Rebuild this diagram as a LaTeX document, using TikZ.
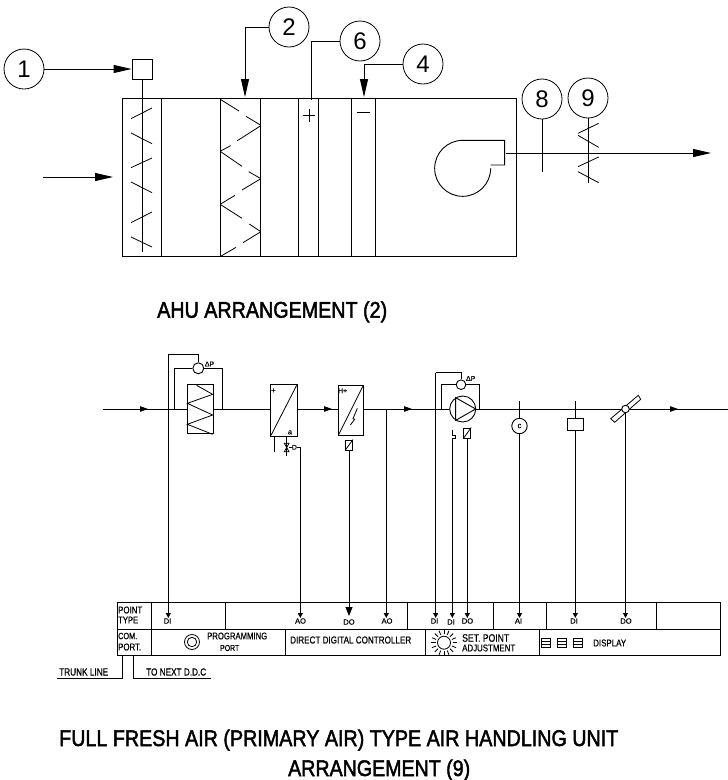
\documentclass[tikz,border=0pt]{standalone}
\usepackage{graphicx}
\usepackage{fontspec}
\setmainfont{Liberation Sans}
\newfontfamily\ttlf[FakeBold=2.2]{Liberation Sans}
\newfontfamily\smallf[FakeBold=0.5]{Liberation Sans}
\usetikzlibrary{arrows.meta}
\newcommand{\fitw}[2]{\scalebox{1}[1.25]{\resizebox{#1pt}{!}{\smallf #2}}}
\newcommand{\fitt}[2]{\scalebox{1}[1.15]{\resizebox{#1pt}{!}{\ttlf #2}}}
\tikzset{
  ln/.style={line width=0.9pt,black},
  thin ln/.style={line width=0.8pt,black},
  num/.style={draw,circle,line width=0.8pt,minimum size=40pt,inner sep=0pt,font=\fontsize{24}{24}\selectfont},
  lbl/.style={inner sep=0pt,anchor=west},
  ttl/.style={inner sep=0pt,anchor=base west},
  ptype/.style={inner sep=0pt,anchor=center,font=\smallf\fontsize{7.5}{7.5}\selectfont},
  big tip/.style={-{Triangle[length=18pt,width=8pt]}},
  small tip/.style={-{Triangle[length=5pt,width=5pt]}},
  flow tip/.style={-{Triangle[length=8pt,width=5.5pt]}},
  box/.style={draw,line width=0.9pt,inner sep=0pt,fill=white},
  smallcirc/.style={draw,circle,line width=0.9pt,inner sep=0pt,fill=white},
}
\begin{document}
\begin{tikzpicture}[x=1pt,y=-1pt,line join=miter]
\useasboundingbox (0,0) rectangle (728,780);
\fill[white] (0,0) rectangle (728,780);

%% ---------- AHU arrangement ----------
\draw[ln] (122,98) rectangle (516.5,256);
\foreach \x in {161,220,260,298,318,351,375} \draw[ln] (\x,98) -- (\x,256);

\node[num] (n1) at (24,69) {1};
\node[num] (n2) at (289,27) {2};
\node[num] (n6) at (360,41) {6};
\node[num] (n4) at (423,64) {4};
\node[num] (n8) at (542,99) {8};
\node[num] (n9) at (588,98) {9};
\node[box,minimum size=20pt] (dbox) at (142,69) {};
\coordinate (filterTop) at (245,97);
\coordinate (plusTop) at (311,100);
\coordinate (minusTop) at (364,97);
\coordinate (dampEnd) at (142,252);
\coordinate (n8End) at (542,172);
\coordinate (n9End) at (588,183);
\coordinate (fanOut) at (506,153);
\coordinate (airOut) at (711,153);
\coordinate (airInA) at (43,177);
\coordinate (airInB) at (113,177);

\draw[ln,big tip] (n1) -- (dbox);
\draw[ln,big tip] (n2) -| (filterTop);
\draw[ln] (n6) -| (plusTop);
\draw[ln,big tip] (n4) -| (minusTop);
\draw[ln] (dbox) -- (dampEnd);
\draw[ln] (n8) -- (n8End);
\draw[ln] (n9) -- (n9End);
\draw[ln,big tip] (fanOut) -- (airOut);
\draw[ln,big tip] (airInA) -- (airInB);

\begin{scope}[shift={(110,50)},x=0.33333pt,y=-0.33333pt]
  \foreach \a/\b/\c/\d in {63/206/126/174,63/249/126/281,63/353/126/324,63/396/126/428,63/518/126/486,63/561/126/591,
    331/148/387/183,408/199/451/225,451/228/382/272,362/287/332/303,332/305/396/349,416/365/451/385,
    451/387/396/420,375/436/332/462,332/464/396/505,418/522/451/544,451/546/399/578,378/592/332/619}
    \draw[thin ln] (\a,\b) -- (\c,\d);
  \draw[thin ln] (579,197) -- (616,197) (597,178) -- (597,216);
  \draw[thin ln] (741,186) -- (780,186);
\end{scope}

\begin{scope}[shift={(420,75)},x=0.33333pt,y=-0.33333pt]
  \foreach \a/\b/\c/\d in {536/145/474/175,474/181/536/217,536/246/474/275,474/290/536/323}
    \draw[thin ln] (\a,\b) -- (\c,\d);
  \draw[ln] (212,270) -- (254,270) -- (254,196) -- (128,196) arc[start angle=90,end angle=360,radius=28pt];
\end{scope}

\node[ttl] (t1) at (157,317.7) {\fitt{230}{AHU ARRANGEMENT (2)}};

%% ---------- Schematic ----------
\node[box,minimum width=26pt,minimum height=49pt] (filter) at (200,409) {};
\node[box,minimum width=27pt,minimum height=52pt] (coil) at (283.5,410) {};
\node[box,minimum width=25pt,minimum height=50pt] (heater) at (350.5,410) {};
\node[smallcirc,minimum size=26pt] (pump) at (462.7,409) {};
\coordinate (ductIn) at (103,409);
\coordinate (ductOut) at (728,409);
\draw[ln] (ductIn) -- (filter.west);
\draw[ln] (filter.east) -- (coil.west |- filter.east);
\draw[ln] (coil.east |- filter.east) -- (heater.west |- filter.east);
\draw[ln] (heater.east |- filter.east) -- (pump.west);
\draw[ln] (pump.east) -- (ductOut);
\foreach \x in {139,323,403,669} \draw[ln,flow tip] (\x,409) -- (\x+9,409);

\begin{scope}[shift={(100,340)},x=0.33333pt,y=-0.33333pt]
  \draw[thin ln] (290,136) -- (338,163) -- (262,190) -- (338,225) -- (262,253) -- (338,283);
  \draw[thin ln] (590,136) -- (513,286);
  \draw[thin ln] (790,136) -- (715,286);
  \draw[thin ln] (751,255) -- (764,238) -- (759,236) -- (772,205);
  \node[font=\smallf\fontsize{8}{8}\selectfont,inner sep=0pt] (plusA) at (520,152) {+};
  \node[font=\smallf\fontsize{7.5}{7.5}\selectfont,inner sep=0pt] (oA) at (570,277) {a};
  \node[font=\smallf\fontsize{7}{7}\selectfont,inner sep=0pt] (hplus) at (728,152) {H+};
  \draw[thin ln] (553,310) -- (567,310) -- (553,335) -- (567,335) -- cycle;
  \draw[thin ln] (560,288) -- (560,347);
  \draw[thin ln] (567,322) -- (578,322);
  \draw[thin ln,fill=white] (578,316) -- (583,316) arc[start angle=90,end angle=-90,radius=2pt] -- (578,328) -- cycle;
  \draw[ln] (523,288) -- (523,335);
\end{scope}

%% dP sensors
\node[smallcirc,minimum size=11pt] (dp1) at (198.3,368.3) {};
\node[smallcirc,minimum size=9.6pt] (dp2) at (461,384.7) {};
\node[inner sep=0pt,font=\smallf\fontsize{7}{7}\selectfont] (dp1t) at (209.5,364) {ΔP};
\node[inner sep=0pt,font=\smallf\fontsize{7}{7}\selectfont] (dp2t) at (470.7,378.5) {ΔP};
\coordinate (a1) at (174,409); \coordinate (a2) at (222.3,409);
\coordinate (b1) at (441.3,409); \coordinate (b2) at (479.7,409);
\coordinate (c1) at (168.3,354.3); \coordinate (c2) at (435.7,372.7);
\draw[ln] (a1) |- (dp1.west);
\draw[ln] (dp1.east) -| (a2);
\draw[ln] (b1) |- (dp2.west);
\draw[ln] (dp2.east) -| (b2);
\draw[ln] (dp1.north) |- (c1);
\draw[ln] (dp2.north) |- (c2);

%% pump triangle
\begin{scope}[shift={(400,350)},x=0.33333pt,y=-0.33333pt]
  \draw[ln] (167,143) -- (227,177) -- (167,211) -- cycle;
\end{scope}

%% lower field devices
\node[box,minimum width=7pt,minimum height=10pt] (hbox) at (349,445) {};
\draw[thin ln] (hbox.south west) -- (hbox.north east);
\node[box,minimum width=7pt,minimum height=10pt] (pbox) at (467.3,433) {};
\draw[thin ln] (pbox.south west) -- (pbox.north east);
\node[smallcirc,minimum size=15.4pt,font=\smallf\fontsize{8}{8}\selectfont] (tsens) at (519.5,426) {c};
\node[box,minimum width=16.5pt,minimum height=12pt] (hum) at (575.3,424) {};
\draw[thin ln] (610.7,418.7) -- (638.3,395.3) -- (640.7,399.3) -- (614.7,422.3) -- cycle;
\node[smallcirc,minimum size=7.5pt] (dmpc) at (625.5,409) {};

\coordinate (tsTop) at (519.5,401);
\coordinate (humTop) at (575.3,401);
\draw[ln] (tsTop) -- (tsens);
\draw[ln] (humTop) -- (hum);

%% table arrow targets
\coordinate (p1) at (168.3,618);
\coordinate (p2) at (300.3,618);
\coordinate (p3) at (349,616);
\coordinate (p4) at (386.3,618);
\coordinate (p5) at (435.7,618);
\coordinate (p6) at (452.3,618);
\coordinate (p7) at (467.3,618);
\coordinate (p8) at (519.5,618);
\coordinate (p9) at (575.3,618);
\coordinate (p10) at (625.5,618);
\coordinate (v1) at (300.3,447.3);
\coordinate (v2) at (296.7,447.3);
\coordinate (s1) at (452.3,438.3);
\coordinate (s2) at (455,438.3);
\coordinate (s3) at (455,435);
\coordinate (s4) at (452.3,435);
\coordinate (s5) at (452.3,430);
\draw[ln,small tip] (c1) -- (p1);
\draw[ln] (v2) -- (v1);
\draw[ln,small tip] (v1) -- (p2);
\draw[ln,-{Triangle[length=9pt,width=7pt]}] (hbox) -- (p3);
\draw[ln,small tip] (386.3,409) -- (p4);
\draw[ln,small tip] (c2) -- (p5);
\draw[ln,small tip] (s1) -- (p6);
\draw[ln] (s1) -- (s2) -- (s3) -- (s4) -- (s5);
\draw[ln,small tip] (pbox) -- (p7);
\draw[ln,small tip] (tsens) -- (p8);
\draw[ln,small tip] (hum) -- (p9);
\draw[ln,small tip] (dmpc) -- (p10);

%% ---------- Table ----------
\draw[ln] (117,602) rectangle (720,655);
\draw[ln] (117,629) -- (720,629);
\foreach \x in {151,225,407,493,546,656} \draw[ln] (\x,602) -- (\x,629);
\foreach \x in {151,285,425,539} \draw[ln] (\x,629) -- (\x,655);

\node[ptype] (l1) at (167.5,621) {DI};
\node[ptype] (l2) at (300.5,621) {AO};
\node[ptype] (l3) at (349,622) {DO};
\node[ptype] (l4) at (387,621) {AO};
\node[ptype] (l5) at (434.5,621) {DI};
\node[ptype] (l6) at (451,622) {DI};
\node[ptype] (l7) at (467.5,621) {DO};
\node[ptype] (l8) at (518.5,621) {AI};
\node[ptype] (l9) at (574,621) {DI};
\node[ptype] (l10) at (626,621) {DO};

\node[lbl] (h1) at (118,610) {\fitw{24}{POINT}};
\node[lbl] (h2) at (118,620) {\fitw{20}{TYPE}};
\node[lbl] (h3) at (118,636) {\fitw{19}{COM.}};
\node[lbl] (h4) at (118,647) {\fitw{23}{PORT.}};
\node[lbl] (h5) at (207,636) {\fitw{60}{PROGRAMMING}};
\node[lbl] (h6) at (220,648) {\fitw{19}{PORT}};
\node[lbl] (h7) at (290,640) {\fitw{121}{DIRECT DIGITAL CONTROLLER}};
\node[lbl] (h8) at (462,638) {\fitw{47}{SET. POINT}};
\node[lbl] (h9) at (462,648) {\fitw{53}{ADJUSTMENT}};
\node[lbl] (h10) at (593,643) {\fitw{33}{DISPLAY}};

\node[draw,circle,thin ln,minimum size=15pt,inner sep=0pt] (pp1) at (192,642) {};
\node[draw,circle,thin ln,minimum size=9.4pt,inner sep=0pt] (pp2) at (192,642) {};

\node[draw,circle,thin ln,minimum size=13pt,inner sep=0pt] (sun) at (444,642.7) {};
\foreach \ang in {0,22.5,...,350}
  \draw[thin ln] (444,642.7) ++(\ang:8.5pt) -- ++(\ang:4.5pt);

\foreach \x in {541.7,557.7,573.7} {
  \draw[thin ln] (\x,638) rectangle (\x+9,647);
  \draw[thin ln] (\x,641) -- (\x+9,641) (\x,644) -- (\x+9,644);
}

\coordinate (tr0) at (122,655);
\coordinate (tr1) at (57,678);
\coordinate (nx0) at (133,655);
\coordinate (nx1) at (211,678);
\draw[ln] (tr0) |- (tr1);
\draw[ln] (nx0) |- (nx1);
\node[lbl] (h11) at (59,672) {\fitw{49}{TRUNK LINE}};
\node[lbl] (h12) at (146,672) {\fitw{60}{TO NEXT D.D.C}};

\node[ttl] (t2) at (59,746) {\fitt{559}{FULL FRESH AIR (PRIMARY AIR) TYPE AIR HANDLING UNIT}};
\node[ttl] (t3) at (288,776) {\fitt{182}{ARRANGEMENT (9)}};
\end{tikzpicture}
\end{document}
